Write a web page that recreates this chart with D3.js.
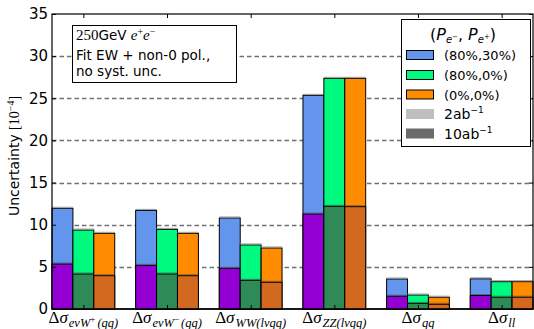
<!DOCTYPE html>
<html><head><meta charset="utf-8">
<script src="https://cdn.jsdelivr.net/npm/d3@7"></script>
<style>
body{margin:0;background:#fff;}
svg{display:block;}
text{font-family:"DejaVu Sans",sans-serif;}
.math{font-family:"Liberation Serif","DejaVu Serif",serif;}
</style>
</head><body>
<svg id="c" width="534" height="329"></svg>
<script>
// ---- data ----
const categories = ["eνW+", "eνW−", "WW", "ZZ", "qq", "ll"];
const labelSubs  = ["eνW", "eνW", "WW(lνqq)", "ZZ(lνqq)", "qq", "ll"];
const labelSups  = ["+", "−", "", "", "", ""];
const labelTails = ["(qq)", "(qq)", "", "", "", ""];
const seriesNames = ["(80%,30%)", "(80%,0%)", "(0%,0%)"];
const lumiNames = ["2ab", "10ab"];
// 2 ab^-1 uncertainties
const unc2ab_80_30 = [11.95, 11.7, 10.8, 25.35, 3.56, 3.58];
const unc2ab_80_0  = [9.37, 9.45, 7.6, 27.37, 1.66, 3.24];
const unc2ab_0_0   = [8.98, 8.98, 7.24, 27.37, 1.40, 3.24];
// 10 ab^-1 uncertainties
const unc10ab_80_30 = [5.34, 5.18, 4.83, 11.27, 1.52, 1.60];
const unc10ab_80_0  = [4.15, 4.15, 3.40, 12.18, 0.67, 1.40];
const unc10ab_0_0   = [3.95, 3.95, 3.17, 12.14, 0.56, 1.40];
const yTicks = [0, 5, 10, 15, 20, 25, 30, 35];
const gridTicks = [5, 10, 15, 20, 25, 30];

const lightColors = ["#6495ED", "#00FA80", "#FF8C00"];
const darkColors  = ["#9400D3", "#2E8B57", "#D2691E"];

const light = [unc2ab_80_30, unc2ab_80_0, unc2ab_0_0];
const dark  = [unc10ab_80_30, unc10ab_80_0, unc10ab_0_0];

const svg = d3.select("#c");
const L = 52, R = 533, T = 14, B = 309;
const x = d3.scaleLinear().domain([0, 23]).range([L, R]);
const y = d3.scaleLinear().domain([0, 35]).range([B, T]);
const bw = x(1) - x(0);

// grid
svg.append("g").selectAll("line").data(gridTicks).join("line")
  .attr("x1", L).attr("x2", R)
  .attr("y1", d => Math.round(y(d)) + 0.5).attr("y2", d => Math.round(y(d)) + 0.5)
  .attr("stroke", "#707070").attr("stroke-width", 1.3).attr("stroke-dasharray", "4.5,3");

// baseline line between groups
svg.append("line").attr("x1", L).attr("x2", R).attr("y1", B).attr("y2", B)
  .attr("stroke", "#000").attr("stroke-width", 1.5);

const gBars = svg.append("g");
categories.forEach((c, i) => {
  for (let j = 0; j < 3; j++) {
    const x0 = x(4 * i + j);
    const vL = light[j][i], vD = dark[j][i];
    gBars.append("rect").attr("x", x0).attr("width", bw)
      .attr("y", y(vL)).attr("height", y(0) - y(vL))
      .attr("fill", lightColors[j]).attr("stroke", "#000").attr("stroke-width", 1);
    gBars.append("line").attr("x1", x0).attr("x2", x0 + bw)
      .attr("y1", y(vL) - 1).attr("y2", y(vL) - 1)
      .attr("stroke", "#999").attr("stroke-width", 1);
    gBars.append("rect").attr("x", x0).attr("width", bw)
      .attr("y", y(vD)).attr("height", y(0) - y(vD))
      .attr("fill", darkColors[j]).attr("stroke", "#000").attr("stroke-width", 1);
    gBars.append("line").attr("x1", x0).attr("x2", x0 + bw)
      .attr("y1", y(vD) - 1).attr("y2", y(vD) - 1)
      .attr("stroke", "#444").attr("stroke-width", 1).attr("opacity", 0.6);
  }
});

// axes
const centers = categories.map((c, i) => 4 * i + 1.5);
const yAxis = d3.axisLeft(y).tickValues(yTicks).tickSize(-4).tickPadding(4).tickFormat(d3.format("d"));
const gy = svg.append("g").attr("transform", `translate(${L},0)`).call(yAxis);
gy.select(".domain").remove();
gy.selectAll("text").attr("font-size", 15).attr("font-family", "DejaVu Sans").attr("fill", "#000");
gy.selectAll("line").attr("stroke", "#000");
const yAxisR = d3.axisRight(y).tickValues(yTicks).tickSize(-4).tickFormat("");
const gyr = svg.append("g").attr("transform", `translate(${R},0)`).call(yAxisR);
gyr.select(".domain").remove();
const xTop = d3.axisTop(x).tickValues(centers).tickSize(-4).tickFormat("");
const gxt = svg.append("g").attr("transform", `translate(0,${T})`).call(xTop);
gxt.select(".domain").remove();
const xBot = d3.axisBottom(x).tickValues(centers).tickSize(-4).tickFormat("");
const gxb = svg.append("g").attr("transform", `translate(0,${B})`).call(xBot);
gxb.select(".domain").remove();

// frame
svg.append("rect").attr("x", L).attr("y", T).attr("width", R - L).attr("height", B - T)
  .attr("fill", "none").attr("stroke", "#000").attr("stroke-width", 1.2);

// x labels
categories.forEach((c, i) => {
  const t = svg.append("text").attr("class", "math")
    .attr("x", x(centers[i])).attr("y", 323).attr("text-anchor", "middle").attr("fill", "#000");
  t.append("tspan").attr("font-size", 17).text("Δ");
  t.append("tspan").attr("font-size", 17).attr("font-style", "italic").text("σ");
  t.append("tspan").attr("font-size", 12.5).attr("font-style", "italic").attr("dx", 1).attr("dy", 3.5).text(labelSubs[i]);
  if (labelSups[i]) {
    t.append("tspan").attr("font-size", 9).attr("dy", -5).text(labelSups[i]);
    t.append("tspan").attr("font-size", 12.5).attr("font-style", "italic").attr("dx", 2).attr("dy", 5).text(labelTails[i]);
  }
});

// y label
const yl = svg.append("text").attr("transform", "translate(19,156) rotate(-90)")
  .attr("text-anchor", "middle").attr("font-size", 14).attr("fill", "#000");
yl.append("tspan").text("Uncertainty ");
yl.append("tspan").attr("class", "math").attr("font-family", "Liberation Serif").attr("font-size", 14).text("[10");
yl.append("tspan").attr("font-family", "Liberation Serif").attr("font-size", 10).attr("dy", -5).text("−4");
yl.append("tspan").attr("font-family", "Liberation Serif").attr("font-size", 14).attr("dy", 5).text("]");

// info box
svg.append("rect").attr("x", 72.5).attr("y", 25.5).attr("width", 164).attr("height", 57)
  .attr("fill", "#fff").attr("stroke", "#000").attr("stroke-width", 1);
const l1 = svg.append("text").attr("x", 76).attr("y", 40).attr("font-size", 13.5).attr("fill", "#000");
l1.append("tspan").attr("font-family", "Liberation Serif").attr("font-size", 15).text("250");
l1.append("tspan").text("GeV ");
l1.append("tspan").attr("font-family", "Liberation Serif").attr("font-style", "italic").attr("font-size", 15).text("e");
l1.append("tspan").attr("font-family", "Liberation Serif").attr("font-size", 10).attr("dy", -5).text("+");
l1.append("tspan").attr("font-family", "Liberation Serif").attr("font-style", "italic").attr("font-size", 15).attr("dy", 5).text("e");
l1.append("tspan").attr("font-family", "Liberation Serif").attr("font-size", 10).attr("dy", -5).text("−");
svg.append("text").attr("x", 76).attr("y", 60).attr("font-size", 13.5).attr("fill", "#000").text("Fit EW + non-0 pol.,");
svg.append("text").attr("x", 76).attr("y", 76).attr("font-size", 13.5).attr("fill", "#000").text("no syst. unc.");

// legend
const lg = svg.append("g");
lg.append("rect").attr("x", 401.5).attr("y", 19.5).attr("width", 129).attr("height", 127)
  .attr("fill", "#fff").attr("stroke", "#000").attr("stroke-width", 1);
const lt = lg.append("text").attr("x", 463).attr("y", 40).attr("text-anchor", "middle")
  .attr("font-family", "Liberation Serif").attr("font-size", 16).attr("fill", "#000");
lt.append("tspan").text("(");
lt.append("tspan").attr("font-style", "italic").text("P");
lt.append("tspan").attr("font-style", "italic").attr("font-size", 10).attr("dy", 3).text("e");
lt.append("tspan").attr("font-size", 7).attr("dy", -4).text("−");
lt.append("tspan").attr("dy", 1).text(", ");
lt.append("tspan").attr("font-style", "italic").text("P");
lt.append("tspan").attr("font-style", "italic").attr("font-size", 10).attr("dy", 3).text("e");
lt.append("tspan").attr("font-size", 7).attr("dy", -4).text("+");
lt.append("tspan").attr("dy", 1).text(")");

const rowsY = [55, 75, 94.5, 114, 133.5];
seriesNames.forEach((n, k) => {
  lg.append("rect").attr("x", 406.5).attr("y", rowsY[k] - 4.5).attr("width", 27).attr("height", 9)
    .attr("fill", lightColors[k]).attr("stroke", "#000").attr("stroke-width", 1);
  lg.append("text").attr("x", 444).attr("y", rowsY[k] + 5).attr("font-size", 13).attr("fill", "#000").text(n);
});
const grayColors = ["#bfbfbf", "#6b6b6b"];
lumiNames.forEach((n, k) => {
  const yy = rowsY[3 + k];
  lg.append("rect").attr("x", 406).attr("y", yy - 5).attr("width", 28).attr("height", 10)
    .attr("fill", grayColors[k]);
  const t = lg.append("text").attr("x", 444).attr("y", yy + 5).attr("font-family", "Liberation Serif")
    .attr("font-size", 14).attr("fill", "#000");
  t.append("tspan").text(n);
  t.append("tspan").attr("font-size", 9).attr("dy", -6).text("−1");
});
</script>
</body></html>
